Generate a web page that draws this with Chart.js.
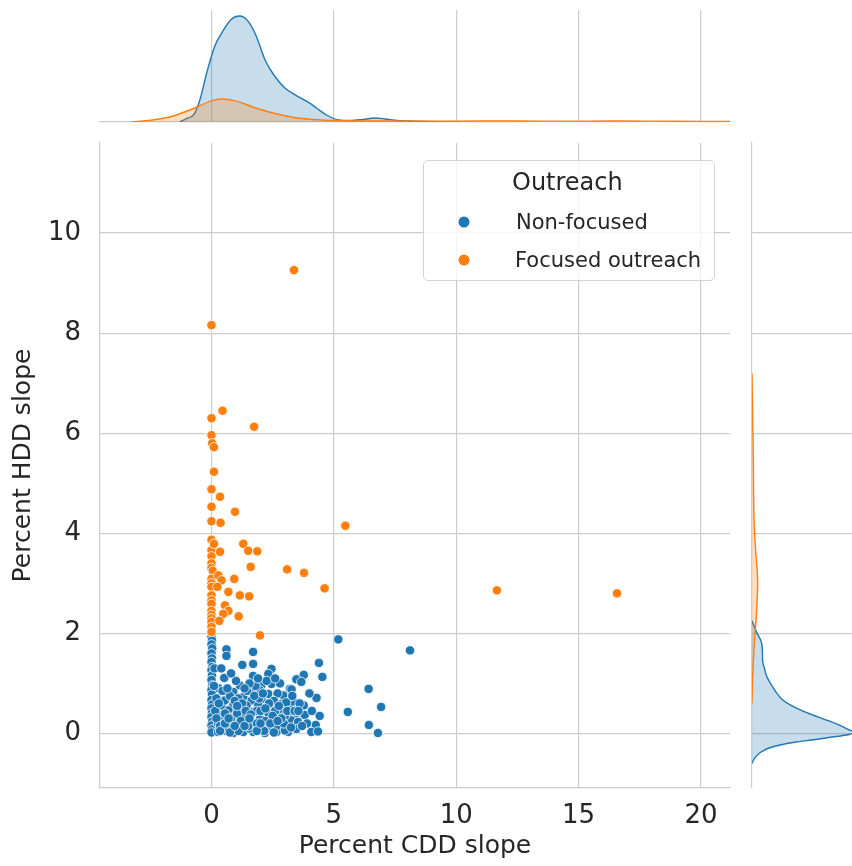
<!DOCTYPE html>
<html>
<head>
<meta charset="utf-8">
<script src="https://cdn.jsdelivr.net/npm/chart.js@4.4.0/dist/chart.umd.min.js"></script>
<style>
  body { margin: 0; background: #fff; }
  #wrap { position: relative; width: 852px; height: 866px; overflow: hidden; font-family: "DejaVu Sans", sans-serif; color: #262626; }
  #wrap canvas { position: absolute; }
  #legend { position: absolute; left: 423px; top: 160px; width: 292px; height: 121px; box-sizing: border-box;
            border: 1px solid #d4d4d4; border-radius: 5px; background: rgba(255,255,255,0.8); }
  #legend span { position: absolute; line-height: 1; transform: translateY(-50%); white-space: nowrap; }
  #legend .dot { width: 11px; height: 11px; border-radius: 50%; transform: translate(-50%, -50%); }
</style>
</head>
<body>
<div id="wrap">
  <canvas id="topKde" width="740" height="123" style="left:0;top:0"></canvas>
  <canvas id="rightKde" width="112" height="733" style="left:740px;top:133px"></canvas>
  <canvas id="main" width="740" height="733" style="left:0;top:133px"></canvas>
  <div id="legend">
    <span style="left:88px;top:21px;font-size:24px">Outreach</span>
    <span class="dot" style="left:40px;top:61px;background:#1f77b4"></span>
    <span style="left:92px;top:61px;font-size:21px">Non-focused</span>
    <span class="dot" style="left:40px;top:99px;background:#ff7f0e"></span>
    <span style="left:91px;top:99px;font-size:21px">Focused outreach</span>
  </div>
</div>
<script>
// Scatter data
const blueX = [0, 0.02, 0, 0.03, 0, 0.02, 0, 0.03, 0, 0.02, 0, 0.03, 0, 0.02, 0, 0.03, 0, 0.02, 0, 0.03, 0, 0.02, 0,
  0.27, 0.27, 0.41, 0.41, 0.54, 0.52, 0.61, 0.61, 0.15, 0.2, 0.3, 0.12, 0.1, 0.3, 0.45,
  1.70, 1.70, 1.26, 2.45, 2.32, 1.70, 3.47, 1.16, 2.04, 2.45, 1.98, 0.89, 1.64, 2.32, 3.20, 2.93, 1.30, 1.64, 2.04,
  0.89, 1.43, 1.91, 2.45, 2.86, 3.27, 0.69, 1.16, 1.70, 2.32, 2.79, 3.20, 0.89, 1.43, 1.98, 2.59, 3.06, 3.47,
  0.69, 1.16, 1.64, 2.25, 2.79, 3.33, 0.89, 1.30, 1.70, 2.18, 2.66, 3.13,
  5.18, 4.39, 4.53, 3.77, 3.47, 3.67, 3.27, 6.42, 4.29, 3.33, 3.77, 6.93, 5.57, 3.47, 3.81, 4.42, 3.27, 3.54,
  4.26, 6.43, 3.47, 4.08, 4.35, 6.80, 8.11,
  0.6, 1.05, 1.1, 1.3, 1.55, 1.45, 1.85, 1.95, 2.2, 2.45, 2.6, 2.7, 3.0, 3.0, 0.8, 1.1, 2.05, 1.8, 2.25, 3.05,
  0.75, 1.0, 2.8, 3.3, 2.55, 1.55, 0.45, 0.5,
  0.2, 0.35, 0.55, 0.65, 0.8, 0.95, 1.05, 1.2, 1.25, 1.4, 1.5, 1.6, 1.75, 1.85, 2.0, 2.1, 2.15, 2.35, 2.5, 2.65,
  2.75, 2.95, 3.1, 3.4, 3.6, 3.9, 4.0, 0.4, 1.9, 2.6,
  0.35, 0.55, 0.75, 0.95, 1.35, 1.55, 1.85, 2.0, 2.4, 2.55, 2.85, 3.25, 0.7, 1.05, 1.35, 2.2, 2.7, 3.55, 3.7, 4.1];
const blueY = [1.93, 1.86, 1.78, 1.70, 1.60, 1.50, 1.43, 1.33, 1.26, 1.16, 1.07, 0.96, 0.87, 0.78, 0.67, 0.58, 0.50, 0.41, 0.33, 0.24, 0.16, 0.08, 0.02,
  0.19, 0.03, 0.56, 0.36, 0.66, 1.11, 1.68, 1.55, 0.45, 0.7, 0.9, 1.3, 0.95, 0.6, 0.1,
  1.63, 1.39, 1.37, 1.29, 1.19, 1.15, 1.09, 0.96, 0.96, 0.99, 0.86, 0.83, 0.83, 0.79, 0.89, 0.76, 0.73, 0.66, 0.69,
  0.56, 0.56, 0.56, 0.59, 0.59, 0.59, 0.46, 0.46, 0.43, 0.41, 0.44, 0.43, 0.33, 0.29, 0.29, 0.26, 0.26, 0.29,
  0.16, 0.16, 0.17, 0.16, 0.16, 0.16, 0.01, 0.03, 0.03, 0.01, 0.03, 0.03,
  1.88, 1.41, 1.13, 1.17, 1.08, 1.03, 0.88, 0.89, 0.71, 0.64, 0.56, 0.53, 0.43, 0.41, 0.37, 0.35, 0.26, 0.23,
  0.17, 0.17, 0.09, 0.03, 0.04, 0.01, 1.66,
  0.05, 0.2, 0.7, 0.4, 0.1, 0.85, 0.45, 0.7, 0.25, 0.06, 0.45, 0.8, 0.35, 0.06, 0.3, 0.05, 0.12, 0.95, 1.05, 0.62,
  0.75, 1.05, 1.0, 0.75, 0.65, 1.0, 0.85, 0.28,
  0.3, 0.15, 0.4, 0.9, 1.2, 0.65, 0.4, 0.25, 0.6, 0.45, 0.15, 0.38, 0.75, 0.2, 0.45, 0.8, 0.05, 0.6, 0.35, 0.15,
  0.55, 0.2, 0.45, 0.45, 0.6, 0.2, 0.8, 1.3, 1.1, 1.1,
  0.05, 0.2, 0.02, 0.15, 0.15, 0.3, 0.05, 0.2, 0.2, 0.02, 0.3, 0.12, 0.3, 0.55, 0.9, 0.5, 0.25, 0.45, 0.15, 0.45];

const orangeX = [0, 0, 0, 0.03, 0.1, 0.1, 0, 0, 0, 0, 0, 0, 0, 0, 0.05, 0, 0, 0, 0, 0, 0, 0, 0, 0, 0, 0, 0,
  0.45, 1.74, 0.35, 0.96, 0.37, 0.10, 1.30, 1.50, 1.87, 0.35, 1.60, 0.28, 0.93, 0.41, 0.24, 0.69, 1.16, 1.54,
  0.55, 0.69, 0.48, 1.11, 0.32, 1.98, 3.37, 3.09, 3.78, 4.62, 5.47, 11.66, 16.57];
const orangeY = [8.16, 6.3, 5.96, 5.8, 5.72, 5.23, 4.88, 4.53, 4.24, 3.87, 3.66, 3.54, 3.4, 3.31, 3.25, 3.09, 3.0, 2.93, 2.76, 2.66, 2.59, 2.45, 2.37, 2.3, 2.23, 2.13, 2.03,
  6.45, 6.13, 4.73, 4.43, 4.21, 3.79, 3.79, 3.65, 3.64, 3.63, 3.33, 3.16, 3.09, 3.06, 2.93, 2.83, 2.76, 2.74,
  2.56, 2.45, 2.39, 2.34, 2.25, 1.96, 9.26, 3.28, 3.21, 2.9, 4.15, 2.86, 2.8];

// Marginal density curves (relative heights)
const topBlueX = [-1.3, -1.05, -0.71, -0.46, -0.2, 0.14, 0.47, 0.81, 1.15, 1.5, 1.83, 2.2, 2.5, 3.0, 3.5, 4.0, 4.3, 4.7, 5.2, 5.7, 6.2, 6.7, 7.1, 7.6, 8.3, 9.2, 10.2];
const topBlueD = [0, 0.03, 0.075, 0.22, 0.46, 0.72, 0.86, 0.97, 1.0, 0.95, 0.81, 0.58, 0.46, 0.32, 0.245, 0.18, 0.13, 0.066, 0.019, 0.014, 0.024, 0.038, 0.028, 0.014, 0.008, 0.003, 0];
const topOrangeX = [-3.3, -2.9, -2.4, -1.56, -0.71, 0, 0.39, 0.98, 1.83, 2.68, 3.5, 4.5, 5.5, 7, 9, 11, 12.5, 14.5, 16.5, 18, 20, 21.2];
const topOrangeD = [0, 0.007, 0.019, 0.057, 0.13, 0.2, 0.217, 0.2, 0.13, 0.075, 0.038, 0.019, 0.012, 0.009, 0.008, 0.009, 0.009, 0.008, 0.009, 0.008, 0.005, 0.004];

const rightBlueY = [2.25, 2.1, 1.98, 1.85, 1.77, 1.6, 1.43, 1.3, 1.18, 1.05, 0.93, 0.8, 0.67, 0.55, 0.42, 0.33, 0.25, 0.16, 0.08, 0.03, -0.02, -0.08, -0.13, -0.17, -0.23, -0.29, -0.36, -0.42, -0.5, -0.6];
const rightBlueD = [0, 0.03, 0.057, 0.09, 0.1, 0.105, 0.107, 0.125, 0.14, 0.17, 0.207, 0.25, 0.307, 0.4, 0.54, 0.66, 0.77, 0.88, 0.96, 1.02, 0.97, 0.77, 0.6, 0.44, 0.28, 0.17, 0.1, 0.06, 0.025, 0];
const rightOrangeY = [7.2, 6.8, 6.2, 5.5, 4.8, 4.2, 3.7, 3.3, 3.0, 2.7, 2.4, 2.1, 1.8, 1.5, 1.2, 0.9, 0.6];
const rightOrangeD = [0, 0.003, 0.008, 0.013, 0.016, 0.022, 0.035, 0.05, 0.057, 0.052, 0.045, 0.034, 0.023, 0.015, 0.008, 0.003, 0];

const xTicks = [0, 5, 10, 15, 20];
const yTicks = [0, 2, 4, 6, 8, 10];

const X_MIN = -4.556, X_MAX = 21.185;
const Y_MIN = -1.09, Y_MAX = 11.8;

const BLUE = "#1f77b4";
const ORANGE = "#ff7f0e";
const GRID = "#cccccc";
const TEXT = "#262626";
const FONT = "DejaVu Sans";

function toPoints(xs, ys) {
  return xs.map((x, i) => ({ x: x, y: ys[i] }));
}

// fix an axis box to a given size and drop the label overhang padding
function fixBox(size) {
  return (s) => {
    if (s.isHorizontal()) s.height = size; else s.width = size;
    s.paddingTop = 0; s.paddingBottom = 0; s.paddingLeft = 0; s.paddingRight = 0;
  };
}

const common = {
  responsive: false,
  animation: false,
  events: [],
  plugins: { legend: { display: false }, tooltip: { enabled: false } },
};

// Main scatter
new Chart(document.getElementById("main"), {
  type: "scatter",
  data: {
    datasets: [
      {
        label: "Non-focused",
        data: toPoints(blueX, blueY),
        pointBackgroundColor: BLUE,
        pointBorderColor: "#ffffff",
        pointBorderWidth: 0.8,
        pointRadius: 4.7,
        order: 2,
      },
      {
        label: "Focused outreach",
        data: toPoints(orangeX, orangeY),
        pointBackgroundColor: ORANGE,
        pointBorderColor: "#ffffff",
        pointBorderWidth: 0.8,
        pointRadius: 4.7,
        order: 1,
      },
    ],
  },
  options: {
    ...common,
    layout: { autoPadding: false, padding: { top: 10, right: 10, left: 0, bottom: 0 } },
    scales: {
      x: {
        type: "linear",
        min: X_MIN,
        max: X_MAX,
        afterBuildTicks: (s) => { s.ticks = xTicks.map((v) => ({ value: v })); },
        afterFit: fixBox(78),
        grid: { color: GRID, lineWidth: 1.2, drawTicks: false },
        border: { color: GRID, width: 1.2 },
        ticks: { padding: 13, color: TEXT, font: { family: FONT, size: 26 } },
        title: { display: true, text: "Percent CDD slope", color: TEXT, font: { family: FONT, size: 25 }, padding: { top: 0, bottom: 5 } },
      },
      y: {
        type: "linear",
        min: Y_MIN,
        max: Y_MAX,
        afterBuildTicks: (s) => { s.ticks = yTicks.map((v) => ({ value: v })); },
        afterFit: fixBox(100),
        grid: { color: GRID, lineWidth: 1.2, drawTicks: false },
        border: { color: GRID, width: 1.2 },
        ticks: { padding: 19, color: TEXT, font: { family: FONT, size: 26 } },
        title: { display: true, text: "Percent HDD slope", color: TEXT, font: { family: FONT, size: 25 }, padding: { top: 8, bottom: 0 } },
      },
    },
  },
});

// Top marginal (CDD slope density)
new Chart(document.getElementById("topKde"), {
  type: "line",
  data: {
    datasets: [
      {
        data: toPoints(topOrangeX, topOrangeD),
        borderColor: ORANGE,
        backgroundColor: "rgba(255,127,14,0.25)",
        borderWidth: 1.4,
        fill: "origin",
        pointRadius: 0,
        cubicInterpolationMode: "monotone",
      },
      {
        data: toPoints(topBlueX, topBlueD),
        borderColor: BLUE,
        backgroundColor: "rgba(31,119,180,0.25)",
        borderWidth: 1.4,
        fill: "origin",
        pointRadius: 0,
        cubicInterpolationMode: "monotone",
      },
    ],
  },
  options: {
    ...common,
    layout: { autoPadding: false, padding: { top: 10, right: 10, left: 100, bottom: 0 } },
    scales: {
      x: {
        type: "linear",
        min: X_MIN,
        max: X_MAX,
        afterBuildTicks: (s) => { s.ticks = xTicks.map((v) => ({ value: v })); },
        afterFit: fixBox(1),
        grid: { color: GRID, lineWidth: 1.2, drawTicks: false },
        border: { color: GRID, width: 1.2 },
        ticks: { display: false },
      },
      y: { type: "linear", display: false, min: 0, max: 1.057 },
    },
  },
});

// Right marginal (HDD slope density)
new Chart(document.getElementById("rightKde"), {
  type: "line",
  data: {
    datasets: [
      {
        data: toPoints(rightOrangeD, rightOrangeY),
        borderColor: ORANGE,
        backgroundColor: "rgba(255,127,14,0.25)",
        borderWidth: 1.4,
        fill: "origin",
        pointRadius: 0,
        cubicInterpolationMode: "monotone",
      },
      {
        data: toPoints(rightBlueD, rightBlueY),
        borderColor: BLUE,
        backgroundColor: "rgba(31,119,180,0.25)",
        borderWidth: 1.4,
        fill: "origin",
        pointRadius: 0,
        cubicInterpolationMode: "monotone",
      },
    ],
  },
  options: {
    ...common,
    indexAxis: "y",
    layout: { autoPadding: false, padding: { top: 10, right: 0, left: 12, bottom: 78 } },
    scales: {
      x: { type: "linear", display: false, min: 0, max: 1.0 },
      y: {
        type: "linear",
        min: Y_MIN,
        max: Y_MAX,
        afterBuildTicks: (s) => { s.ticks = yTicks.map((v) => ({ value: v })); },
        afterFit: fixBox(0),
        grid: { color: GRID, lineWidth: 1.2, drawTicks: false },
        border: { color: GRID, width: 1.2 },
        ticks: { display: false },
      },
    },
  },
});
</script>
</body>
</html>
